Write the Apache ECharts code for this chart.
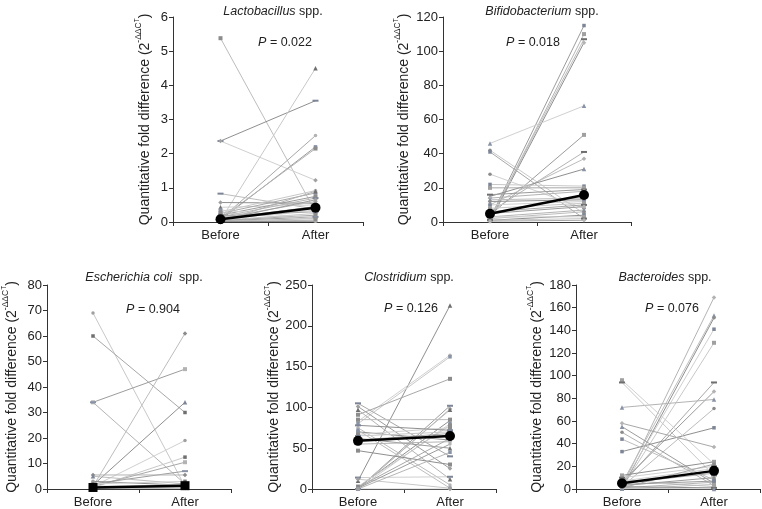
<!DOCTYPE html>
<html><head><meta charset="utf-8">
<script src="https://cdn.jsdelivr.net/npm/echarts@6/dist/echarts.min.js"></script>
<style>html,body{margin:0;padding:0;background:#fff}#c{width:762px;height:509px}</style>
</head><body><div id="c"></div>
<script>
const categories = ['Before', 'After'];

const lactoBefore = [5.38, 2.37, 2.37, 0.05, 0.08, 0.06, 0.10, 0.83, 0.57, 0.43, 0.30, 0.25, 0.20, 0.15, 0.12, 0.10, 0.08, 0.05, 0.04, 0.03, 0.02, 0.02, 0.01, 0.35, 0.28, 0.18, 0.06, 0.01];
const lactoAfter  = [0.30, 3.55, 1.22, 4.50, 2.53, 2.20, 2.15, 0.38, 0.55, 0.50, 0.92, 0.85, 0.75, 0.70, 0.60, 0.45, 0.35, 0.25, 0.20, 0.15, 0.10, 0.05, 0.02, 0.12, 0.08, 0.30, 0.65, 0.90];
const lactoMedian = [0.08, 0.42];

const bifidoBefore = [2, 1, 1.5, 0.5, 46, 42, 41, 4, 6, 10, 15, 28, 22, 20, 16, 14, 13, 12, 10, 8, 6, 5, 3, 2, 1, 3, 1, 0.5];
const bifidoAfter  = [115, 110, 107, 105, 68, 5, 2, 51, 41, 37, 31, 8, 21, 20, 19, 18, 14, 13, 12, 11, 10, 9, 7, 6, 4, 3, 2, 1];
const bifidoMedian = [4.8, 15.8];

const ecoliBefore = [69, 60, 34, 34, 1, 1.5, 1, 0.5, 1, 2, 5.5, 5, 3, 2, 1, 0.5, 0.3, 0.2, 0.1, 0.5, 1.2, 0.8];
const ecoliAfter  = [1, 30, 47, 2, 61, 34, 19, 12.5, 10.5, 7, 5.5, 2, 1.5, 3, 1, 0.5, 2, 0.8, 0.3, 1.2, 0.6, 1.8];
const ecoliMedian = [0.6, 1.3];

const clostBefore = [10, 83, 80, 91, 0, 0, 1, 2, 0, 3, 105, 101, 97, 75, 70, 67, 65, 60, 62, 55, 72, 47, 14, 12, 2, 1, 0, 85, 78, 0];
const clostAfter  = [225, 164, 162, 135, 102, 98, 97, 84, 80, 78, 40, 25, 12, 5, 60, 75, 70, 68, 50, 58, 1, 30, 15, 1, 62, 55, 45, 85, 72, 0];
const clostMedian = [59, 65];

const bactBefore = [2, 5, 0.5, 3, 1, 4, 6, 72, 2, 33, 96, 94, 58, 55, 50, 44, 12, 10, 8, 5, 3, 1, 0, 2, 7, 0.5, 1, 4];
const bactAfter  = [169, 153, 151, 141, 129, 94, 86, 79, 71, 54, 22, 12, 37, 5, 3, 8, 24, 20, 2, 14, 10, 6, 4, 1, 18, 0, 22, 7];
const bactMedian = [5, 16];

const titles = ['Lactobacillus', 'Bifidobacterium', 'Escherichia coli ', 'Clostridium', 'Bacteroides'];
const pValues = ['0.022', '0.018', '0.904', '0.126', '0.076'];
const yMaxes = [6, 120, 80, 250, 180];
const yIntervals = [1, 20, 10, 50, 20];

const panels = [
  {b: lactoBefore, a: lactoAfter, m: lactoMedian},
  {b: bifidoBefore, a: bifidoAfter, m: bifidoMedian},
  {b: ecoliBefore, a: ecoliAfter, m: ecoliMedian},
  {b: clostBefore, a: clostAfter, m: clostMedian},
  {b: bactBefore, a: bactAfter, m: bactMedian}
];

// layout
const FONT = 'Liberation Sans, Arial, Helvetica, sans-serif';
const grids = [
  {left: 173, width: 190, top: 17, height: 205},
  {left: 443, width: 188, top: 17, height: 205},
  {left: 47, width: 184, top: 285, height: 204},
  {left: 312, width: 184, top: 285, height: 204},
  {left: 576, width: 184, top: 285, height: 204}
];
const nameGaps = [21, 32, 28, 30, 32];
const titlePos = [[268, 0], [537, 0], [139, 266], [404, 266], [660, 266]];
const pPos = [[280, 31], [528, 31], [148, 298], [406, 297], [667, 297]];

const lineColors = ['#bdbdbd', '#9c9c9c', '#c8c8c8', '#8f8f8f', '#b4b4b4', '#a8a8a8', '#d0d0d0'];
const markColors = ['#8c8c8c', '#7d8596', '#a0a0a0', '#6f6f6f', '#b3b3b3', '#8a93a6'];
const symbols = ['rect', 'rect', 'circle', 'triangle', 'diamond', 'rect'];
const symbolSizes = [4, 3.5, 3.5, 4.5, 4.5, [6, 2]];

const option = {
  animation: false,
  backgroundColor: '#fff',
  title: [],
  grid: [],
  xAxis: [],
  yAxis: [],
  series: []
};

grids.forEach((g, p) => {
  option.grid.push(Object.assign({containLabel: false}, g));
  option.xAxis.push({
    type: 'category', gridIndex: p, data: categories, boundaryGap: true,
    axisLine: {lineStyle: {color: '#333', width: 1}},
    axisTick: {show: true, length: 4, lineStyle: {color: '#333'}},
    axisLabel: {color: '#222', fontSize: 13, fontFamily: FONT, margin: 7}
  });
  option.yAxis.push({
    type: 'value', gridIndex: p, min: 0, max: yMaxes[p], interval: yIntervals[p],
    splitLine: {show: false},
    axisLine: {show: true, lineStyle: {color: '#333', width: 1}},
    axisTick: {show: true, length: 4, lineStyle: {color: '#333'}},
    axisLabel: {color: '#222', fontSize: 13, fontFamily: FONT, margin: 5},
    name: '{n|Quantitative fold difference (2}{s|-ΔΔC}{t|T}{n|)}',
    nameLocation: 'middle', nameRotate: 90, nameGap: nameGaps[p],
    nameTextStyle: {
      fontFamily: FONT, color: '#222',
      rich: {
        n: {fontSize: 14, fontFamily: FONT, color: '#222', lineHeight: 18, verticalAlign: 'bottom'},
        s: {fontSize: 8.5, fontFamily: FONT, color: '#222', verticalAlign: 'top', lineHeight: 18, padding: [0, 0, 8, 0]},
        t: {fontSize: 6.5, fontFamily: FONT, color: '#222', verticalAlign: 'top', lineHeight: 18, padding: [0, 0, 4, 0]}
      }
    }
  });
  option.title.push({
    text: '{i|' + titles[p] + '} spp.',
    left: titlePos[p][0], top: titlePos[p][1], textAlign: 'center',
    textStyle: {fontSize: 12.5, fontWeight: 'normal', fontFamily: FONT, color: '#222',
      rich: {i: {fontSize: 12.5, fontStyle: 'italic', fontFamily: FONT, color: '#222'}}}
  });
  option.title.push({
    text: '{i|P} = ' + pValues[p],
    left: pPos[p][0], top: pPos[p][1], textAlign: 'center',
    textStyle: {fontSize: 12.5, fontWeight: 'normal', fontFamily: FONT, color: '#222',
      rich: {i: {fontSize: 12.5, fontStyle: 'italic', fontFamily: FONT, color: '#222'}}}
  });

  const d = panels[p];
  for (let i = 0; i < d.b.length; i++) {
    const k = (i * 5 + p) % symbols.length;
    const sym = symbols[k];
    const mc = markColors[(i + p) % markColors.length];
    option.series.push({
      type: 'line', xAxisIndex: p, yAxisIndex: p, silent: true, z: 2,
      data: [d.b[i], d.a[i]],
      lineStyle: {color: lineColors[(i * 3 + p) % lineColors.length], width: 1},
      symbol: sym, symbolSize: symbolSizes[k],
      itemStyle: {color: mc, borderWidth: 0}
    });
  }
  option.series.push({
    type: 'line', xAxisIndex: p, yAxisIndex: p, silent: true, z: 5,
    data: d.m,
    lineStyle: {color: '#000', width: 2.5},
    symbol: p === 2 ? 'rect' : 'circle', symbolSize: p === 2 ? 9 : 10,
    itemStyle: {color: '#000'}
  });
});

const chart = echarts.init(document.getElementById('c'), null, {renderer: 'canvas'});
chart.setOption(option);
</script>
</body></html>
